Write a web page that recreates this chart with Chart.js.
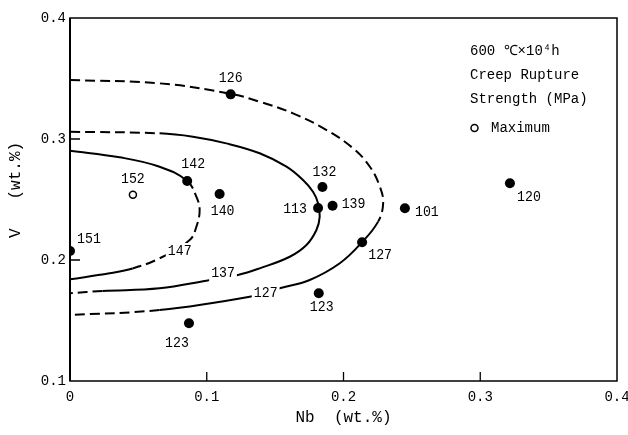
<!DOCTYPE html>
<html>
<head>
<meta charset="utf-8">
<script src="https://cdn.jsdelivr.net/npm/chart.js@4.4.0/dist/chart.umd.min.js"></script>
<style>
    html, body { margin: 0; padding: 0; background: #fff; }
    #wrap { width: 628px; height: 435px; }
</style>
</head>
<body>
<div id="wrap"><canvas id="chart" width="628" height="435"></canvas></div>
<script>
// Alloys: Nb, V (wt.%) and the rupture strength written next to each point
let alloyNb = [0.1175, 0.0857, 0.1094, 0.0, 0.1846, 0.1814, 0.1920, 0.2449, 0.3217, 0.2136, 0.1819, 0.0870];
let alloyV = [0.3369, 0.2653, 0.2545, 0.2074, 0.2603, 0.2430, 0.2449, 0.2427, 0.2634, 0.2146, 0.1725, 0.1477];
let alloyStrength = ['126', '142', '140', '151', '132', '113', '139', '101', '120', '127', '123', '123'];

let maxNb = [0.046];
let maxV = [0.254];
let maxStrength = ['152'];

// iso-strength lines
let line127Nb = [0, 0.0655, 0.1180, 0.1387, 0.1631, 0.1876, 0.2070, 0.2193, 0.2266, 0.2290, 0.2253, 0.2134, 0.1973, 0.1753, 0.1534, 0.1314, 0.0655, 0];
let line127V = [0.3488, 0.3460, 0.3372, 0.3308, 0.3212, 0.3074, 0.2923, 0.2771, 0.2606, 0.2469, 0.2317, 0.2145, 0.1973, 0.1835, 0.1766, 0.1697, 0.1587, 0.1545];

let line137Nb = [0, 0.0655, 0.0899, 0.1143, 0.1387, 0.1583, 0.1704, 0.1777, 0.1814, 0.1826, 0.1802, 0.1729, 0.1607, 0.1387, 0.1228, 0.0997, 0.0655, 0.0238, 0];
let line137V = [0.3060, 0.3047, 0.3019, 0.2964, 0.2882, 0.2771, 0.2661, 0.2564, 0.2469, 0.2358, 0.2248, 0.2124, 0.2027, 0.1931, 0.1876, 0.1829, 0.1766, 0.1744, 0.1725];

let line147Nb = [0, 0.0362, 0.0655, 0.0855, 0.0924, 0.0948, 0.0924, 0.0875, 0.0655, 0.0458, 0.0289, 0];
let line147V = [0.2903, 0.2849, 0.2771, 0.2655, 0.2523, 0.2413, 0.2275, 0.2165, 0.2014, 0.1930, 0.1890, 0.1840];

let contourLevels = ['127', '137', '147'];
let contourLabelNb = [0.1431, 0.1119, 0.0802];
let contourLabelV = [0.1725, 0.1890, 0.2074];

let xTicks = [0, 0.1, 0.2, 0.3, 0.4];
let yTicks = [0.1, 0.2, 0.3, 0.4];

let legendLines = ['600 \u2103\u00d710\u2074h', 'Creep Rupture', 'Strength (MPa)'];
let legendMarker = 'Maximum';

// where the number sits relative to its point (px)
let alloyLabelOffset = [[0, -16], [6, -17], [3, 17], [19, -12], [2, -15], [-23, 1], [21, -2], [22, 4], [19, 14], [18, 13], [3, 14], [-12, 20]];
let maxLabelOffset = [[0, -16]];

const monoFont = '"Liberation Mono", "DejaVu Sans Mono", monospace';
const labelFont = '15px "Liberation Mono", "DejaVu Sans Mono", monospace';

function toPoints(xs, ys) {
    let list = [];
    for (let i = 0; i < xs.length; i++) {
        list.push({x: xs[i], y: ys[i]});
    }
    return list;
}

function contourDataset(xs, ys, isDashed) {
    /*
        Line through the read points; dashed parts are chosen by segment index.
     */
    return {
        data: toPoints(xs, ys),
        showLine: true,
        borderColor: '#000',
        borderWidth: 2,
        pointRadius: 0,
        tension: 0.4,
        fill: false,
        order: 2,
        segment: {
            borderDash: ctx => isDashed(ctx.p0DataIndex) ? [10, 5] : undefined
        }
    };
}

function fixedTicks(values) {
    return function (scale) {
        scale.ticks = values.map(v => ({value: v}));
    };
}

function narrowText(ctx, text, x, y) {
    // the figure uses a tall, narrow face: squeeze the mono font a little
    ctx.save();
    ctx.translate(x, y);
    ctx.scale(0.88, 1);
    ctx.fillText(text, 0, 0);
    ctx.restore();
}

let decor = {
    id: 'decor',
    afterDatasetsDraw(chart) {
        let ctx = chart.ctx;
        let area = chart.chartArea;
        let xs = chart.scales.x;
        let ys = chart.scales.y;

        ctx.save();

        // frame
        ctx.strokeStyle = '#000';
        ctx.lineWidth = 1.5;
        ctx.strokeRect(area.left, area.top, area.right - area.left, area.bottom - area.top);
        ctx.lineWidth = 2;
        ctx.beginPath();
        ctx.moveTo(area.left, area.top);
        ctx.lineTo(area.left, area.bottom);
        ctx.stroke();

        // inward ticks
        ctx.lineWidth = 1.3;
        ctx.beginPath();
        for (let i = 1; i < xTicks.length - 1; i++) {
            let px = xs.getPixelForValue(xTicks[i]);
            ctx.moveTo(px, area.bottom);
            ctx.lineTo(px, area.bottom - 9);
        }
        for (let i = 1; i < yTicks.length - 1; i++) {
            let py = ys.getPixelForValue(yTicks[i]);
            ctx.moveTo(area.left, py);
            ctx.lineTo(area.left + 10, py);
        }
        ctx.stroke();

        ctx.font = labelFont;
        ctx.textAlign = 'center';
        ctx.textBaseline = 'middle';
        ctx.fillStyle = '#000';

        // level numbers on the lines
        for (let i = 0; i < contourLevels.length; i++) {
            let px = xs.getPixelForValue(contourLabelNb[i]);
            let py = ys.getPixelForValue(contourLabelV[i]);
            let w = ctx.measureText(contourLevels[i]).width * 0.88;
            ctx.fillStyle = '#fff';
            ctx.fillRect(px - w / 2 - 2, py - 8, w + 4, 16);
            ctx.fillStyle = '#000';
            narrowText(ctx, contourLevels[i], px, py);
        }

        // numbers next to the points
        for (let i = 0; i < alloyStrength.length; i++) {
            let px = xs.getPixelForValue(alloyNb[i]);
            let py = ys.getPixelForValue(alloyV[i]);
            narrowText(ctx, alloyStrength[i], px + alloyLabelOffset[i][0], py + alloyLabelOffset[i][1]);
        }
        for (let i = 0; i < maxStrength.length; i++) {
            let px = xs.getPixelForValue(maxNb[i]);
            let py = ys.getPixelForValue(maxV[i]);
            narrowText(ctx, maxStrength[i], px + maxLabelOffset[i][0], py + maxLabelOffset[i][1]);
        }

        // legend text box
        ctx.font = '14px ' + monoFont;
        ctx.textAlign = 'left';
        let lineY = [51, 75, 99];
        for (let i = 0; i < legendLines.length; i++) {
            ctx.fillText(legendLines[i], 470, lineY[i]);
        }
        ctx.lineWidth = 1.5;
        ctx.beginPath();
        ctx.arc(474.5, 128, 3.5, 0, Math.PI * 2);
        ctx.stroke();
        ctx.fillText(legendMarker, 491, 128);

        ctx.restore();
    }
};

let chart = new Chart(document.getElementById('chart'), {
    type: 'scatter',
    data: {
        datasets: [
            {
                data: toPoints(alloyNb, alloyV),
                pointRadius: 5,
                pointBackgroundColor: '#000',
                pointBorderColor: '#000',
                pointBorderWidth: 0,
                order: 0
            },
            {
                data: toPoints(maxNb, maxV),
                pointRadius: 3.5,
                pointBackgroundColor: '#fff',
                pointBorderColor: '#000',
                pointBorderWidth: 1.5,
                order: 0
            },
            contourDataset(line127Nb, line127V, i => i <= 9 || i >= 16),
            contourDataset(line137Nb, line137V, i => i === 0 || i >= 17),
            contourDataset(line147Nb, line147V, i => i >= 3 && i <= 8)
        ]
    },
    options: {
        responsive: false,
        animation: false,
        events: [],
        layout: {padding: {top: 18, right: 11, left: 0, bottom: 0}},
        plugins: {
            legend: {display: false},
            tooltip: {enabled: false}
        },
        scales: {
            x: {
                type: 'linear',
                min: 0,
                max: 0.4,
                afterBuildTicks: fixedTicks(xTicks),
                afterFit: function (scale) {
                    scale.height = 54;
                    scale.paddingLeft = 0;
                    scale.paddingRight = 0;
                },
                grid: {display: false, drawTicks: false},
                border: {display: false},
                ticks: {
                    padding: 8,
                    color: '#000',
                    font: {family: monoFont, size: 14},
                    maxRotation: 0,
                    callback: v => v === 0 ? '0' : v.toFixed(1)
                },
                title: {
                    display: true,
                    text: 'Nb  (wt.%)',
                    color: '#000',
                    font: {family: monoFont, size: 16},
                    padding: {top: 0, bottom: 8}
                }
            },
            y: {
                type: 'linear',
                min: 0.1,
                max: 0.4,
                afterBuildTicks: fixedTicks(yTicks),
                afterFit: function (scale) {
                    scale.width = 70;
                    scale.paddingTop = 0;
                    scale.paddingBottom = 0;
                },
                grid: {display: false, drawTicks: false},
                border: {display: false},
                ticks: {
                    padding: 4,
                    color: '#000',
                    font: {family: monoFont, size: 14},
                    callback: v => v.toFixed(1)
                },
                title: {
                    display: true,
                    text: '  V   (wt.%)',
                    color: '#000',
                    font: {family: monoFont, size: 16},
                    padding: {top: 6, bottom: 0}
                }
            }
        }
    },
    plugins: [decor]
});
</script>
</body>
</html>
